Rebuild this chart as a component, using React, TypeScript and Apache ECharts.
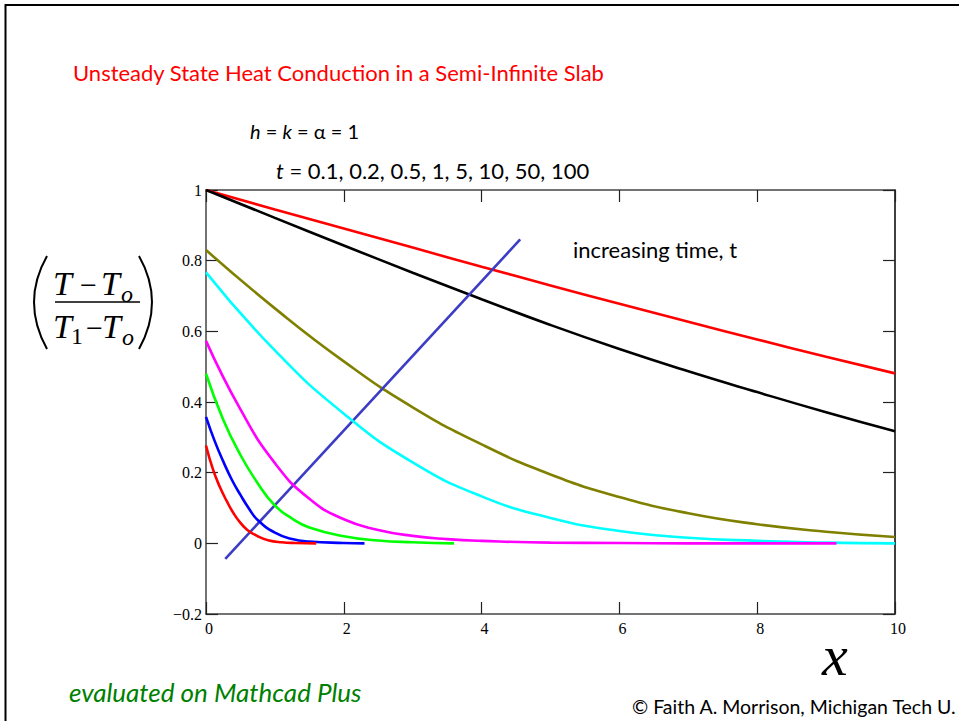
import React, { useEffect, useRef } from "react";
import * as echarts from "echarts";

// ---- data ----
const xTicks = [0, 2, 4, 6, 8, 10];
const yTicks = [-0.2, 0, 0.2, 0.4, 0.6, 0.8, 1];
const timeLabels = ["100", "50", "10", "5", "1", "0.5", "0.2", "0.1"];

const xCoarse = [0, 1, 2, 3, 4, 5, 6, 7, 8, 9, 10];
const y_t100 = [1, 0.945, 0.891, 0.837, 0.783, 0.73, 0.678, 0.627, 0.577, 0.528, 0.481];
const y_t50 = [1, 0.921, 0.843, 0.766, 0.691, 0.618, 0.55, 0.487, 0.428, 0.371, 0.317];
const y_t10 = [0.83, 0.665, 0.515, 0.385, 0.28, 0.195, 0.131, 0.085, 0.054, 0.033, 0.018];
const y_t5 = [0.767, 0.546, 0.367, 0.229, 0.133, 0.072, 0.035, 0.016, 0.007, 0.002, 0];

const x_t1 = [0, 0.5, 1, 1.5, 2, 2.5, 3, 3.5, 4, 5, 6, 7, 8, 9.15];
const y_t1 = [0.573, 0.379, 0.227, 0.126, 0.068, 0.038, 0.021, 0.012, 0.007, 0.002, 0.001, 0, 0, 0];

const x_t05 = [0, 0.25, 0.5, 0.75, 1, 1.25, 1.5, 2, 2.5, 3, 3.6];
const y_t05 = [0.48, 0.35, 0.25, 0.17, 0.107, 0.07, 0.045, 0.02, 0.008, 0.003, 0];

const x_t02 = [0, 0.125, 0.25, 0.375, 0.5, 0.625, 0.75, 1, 1.25, 1.5, 2, 2.3];
const y_t02 = [0.358, 0.29, 0.232, 0.18, 0.137, 0.098, 0.066, 0.03, 0.012, 0.005, 0.001, 0];

const x_t01 = [0, 0.1, 0.2, 0.3, 0.4, 0.5, 0.6, 0.75, 0.9, 1.1, 1.3, 1.6];
const y_t01 = [0.277, 0.21, 0.16, 0.12, 0.085, 0.058, 0.038, 0.02, 0.009, 0.003, 0.001, 0];

const arrowStart = [0.28, -0.044];
const arrowEnd = [4.56, 0.86];

const seriesColors = ["#ff0000", "#000000", "#808000", "#00ffff", "#ff00ff", "#00ff00", "#0000ff", "#ff0000"];

const zip = (xs: number[], ys: number[]) => xs.map((x, i) => [x, ys[i]]);

const serif = "Liberation Serif";
const sans = "Lato";

export default function App() {
  const ref = useRef<HTMLDivElement>(null);
  useEffect(() => {
    document.body.style.margin = "0";
    const chart = echarts.init(ref.current!, null, { renderer: "svg" });
    const curves = [
      zip(xCoarse, y_t100),
      zip(xCoarse, y_t50),
      zip(xCoarse, y_t10),
      zip(xCoarse, y_t5),
      zip(x_t1, y_t1),
      zip(x_t05, y_t05),
      zip(x_t02, y_t02),
      zip(x_t01, y_t01),
    ];
    const fmt = (v: number) => {
      const r = Math.round(v * 10) / 10;
      return r < 0 ? "\u2212" + String(-r) : String(r);
    };
    const axisLine = { show: true, onZero: false, lineStyle: { color: "#444", width: 1.5 } };
    const tick = { show: true, inside: true, length: 12, lineStyle: { color: "#222", width: 1.2 } };
    const txt = (x: number, y: number, text: string, size: number, extra: any = {}) => ({
      type: "text", x, y,
      style: { text, fontFamily: sans, fontSize: size, fill: "#000", verticalAlign: "middle", ...extra },
    });
    const mathTxt = (x: number, y: number, text: string, size: number, italic: boolean) => ({
      type: "text", x, y,
      style: { text, fontFamily: serif, fontStyle: italic ? "italic" : "normal", fontSize: size, fill: "#000", verticalAlign: "middle" },
    });
    const option: any = {
      animation: false,
      backgroundColor: "#fff",
      grid: { left: 206, top: 190, right: 64, bottom: 107, show: false },
      xAxis: [
        {
          type: "value", min: 0, max: 10, interval: 2, position: "bottom",
          axisLine, axisTick: tick, splitLine: { show: false },
          axisLabel: { fontFamily: serif, fontSize: 16, color: "#000", margin: 6, padding: [0, 0, 0, 6], formatter: (v: number) => String(v) },
        },
        {
          type: "value", min: 0, max: 10, interval: 2, position: "top",
          axisLine, axisTick: tick, splitLine: { show: false }, axisLabel: { show: false },
        },
      ],
      yAxis: [
        {
          type: "value", min: -0.2, max: 1, interval: 0.2, position: "left",
          axisLine, axisTick: tick, splitLine: { show: false },
          axisLabel: { fontFamily: serif, fontSize: 16, color: "#000", margin: 4, formatter: fmt },
        },
        {
          type: "value", min: -0.2, max: 1, interval: 0.2, position: "right",
          axisLine: { show: true, onZero: false, lineStyle: { color: "#000", width: 1.5 } }, axisTick: tick, splitLine: { show: false }, axisLabel: { show: false },
        },
      ],
      series: [
        ...curves.map((d, i) => ({
          type: "line",
          name: "t = " + timeLabels[i],
          data: d,
          showSymbol: false,
          smooth: 0.5,
          lineStyle: { color: seriesColors[i], width: 2.6 },
          z: 2 + i,
          silent: true,
        })),
        {
          type: "line",
          name: "arrow",
          data: [],
          z: 20,
          silent: true,
          markLine: {
            silent: true,
            animation: false,
            symbol: ["none", "arrow"],
            symbolSize: [0, 11],
            label: { show: false },
            lineStyle: { color: "#3c3cc4", width: 2.6, type: "solid" },
            data: [[{ coord: arrowStart }, { coord: arrowEnd }]],
          },
        },
      ],
      graphic: [
        { type: "rect", shape: { x: 5.5, y: 5, width: 1000, height: 800 }, style: { fill: "none", stroke: "#000", lineWidth: 2 }, silent: true },
        txt(73, 72, "Unsteady State Heat Conduction in a Semi-Infinite Slab", 22, { fill: "#ff0000" }),
        {
          type: "text", x: 250, y: 131,
          style: {
            text: "{i|h} = {i|k} = \u03b1 = 1",
            fontFamily: sans, fontSize: 20, fill: "#000", verticalAlign: "middle",
            rich: { i: { fontStyle: "italic", fontFamily: sans, fontSize: 20, fill: "#000" } },
          },
        },
        {
          type: "text", x: 276, y: 170,
          style: {
            text: "{i|t} = 0.1, 0.2, 0.5, 1, 5, 10, 50, 100",
            fontFamily: sans, fontSize: 22, fill: "#000", verticalAlign: "middle",
            rich: { i: { fontStyle: "italic", fontFamily: sans, fontSize: 22, fill: "#000" } },
          },
        },
        txt(573, 249, "increasing time, t", 22),
        txt(69, 692, "evaluated on Mathcad Plus", 26, { fontStyle: "italic", fill: "#008000" }),
        txt(632, 706, "\u00a9 Faith A. Morrison, Michigan Tech U.", 19.5),
        // big x axis symbol
        mathTxt(822, 655, "x", 58, true),
        // y label: ((T - To)/(T1 - To))
        { type: "bezierCurve", shape: { x1: 47, y1: 256, x2: 47, y2: 349, cpx1: 21, cpy1: 302 }, style: { stroke: "#000", lineWidth: 2, fill: "none" } },
        { type: "bezierCurve", shape: { x1: 139, y1: 256, x2: 139, y2: 349, cpx1: 165, cpy1: 302 }, style: { stroke: "#000", lineWidth: 2, fill: "none" } },
        mathTxt(53, 283, "T", 34, true),
        mathTxt(80, 284, "\u2212", 30, false),
        mathTxt(101, 283, "T", 34, true),
        mathTxt(121, 294, "o", 24, true),
        { type: "line", shape: { x1: 55, y1: 302, x2: 140, y2: 302 }, style: { stroke: "#000", lineWidth: 1.5 } },
        mathTxt(53, 326, "T", 34, true),
        mathTxt(71, 336, "1", 24, false),
        mathTxt(86, 327, "\u2212", 30, false),
        mathTxt(102, 326, "T", 34, true),
        mathTxt(122, 337, "o", 24, true),
      ],
    };
    chart.setOption(option);
    return () => chart.dispose();
  }, []);
  return <div ref={ref} style={{ width: 959, height: 721 }} />;
}
